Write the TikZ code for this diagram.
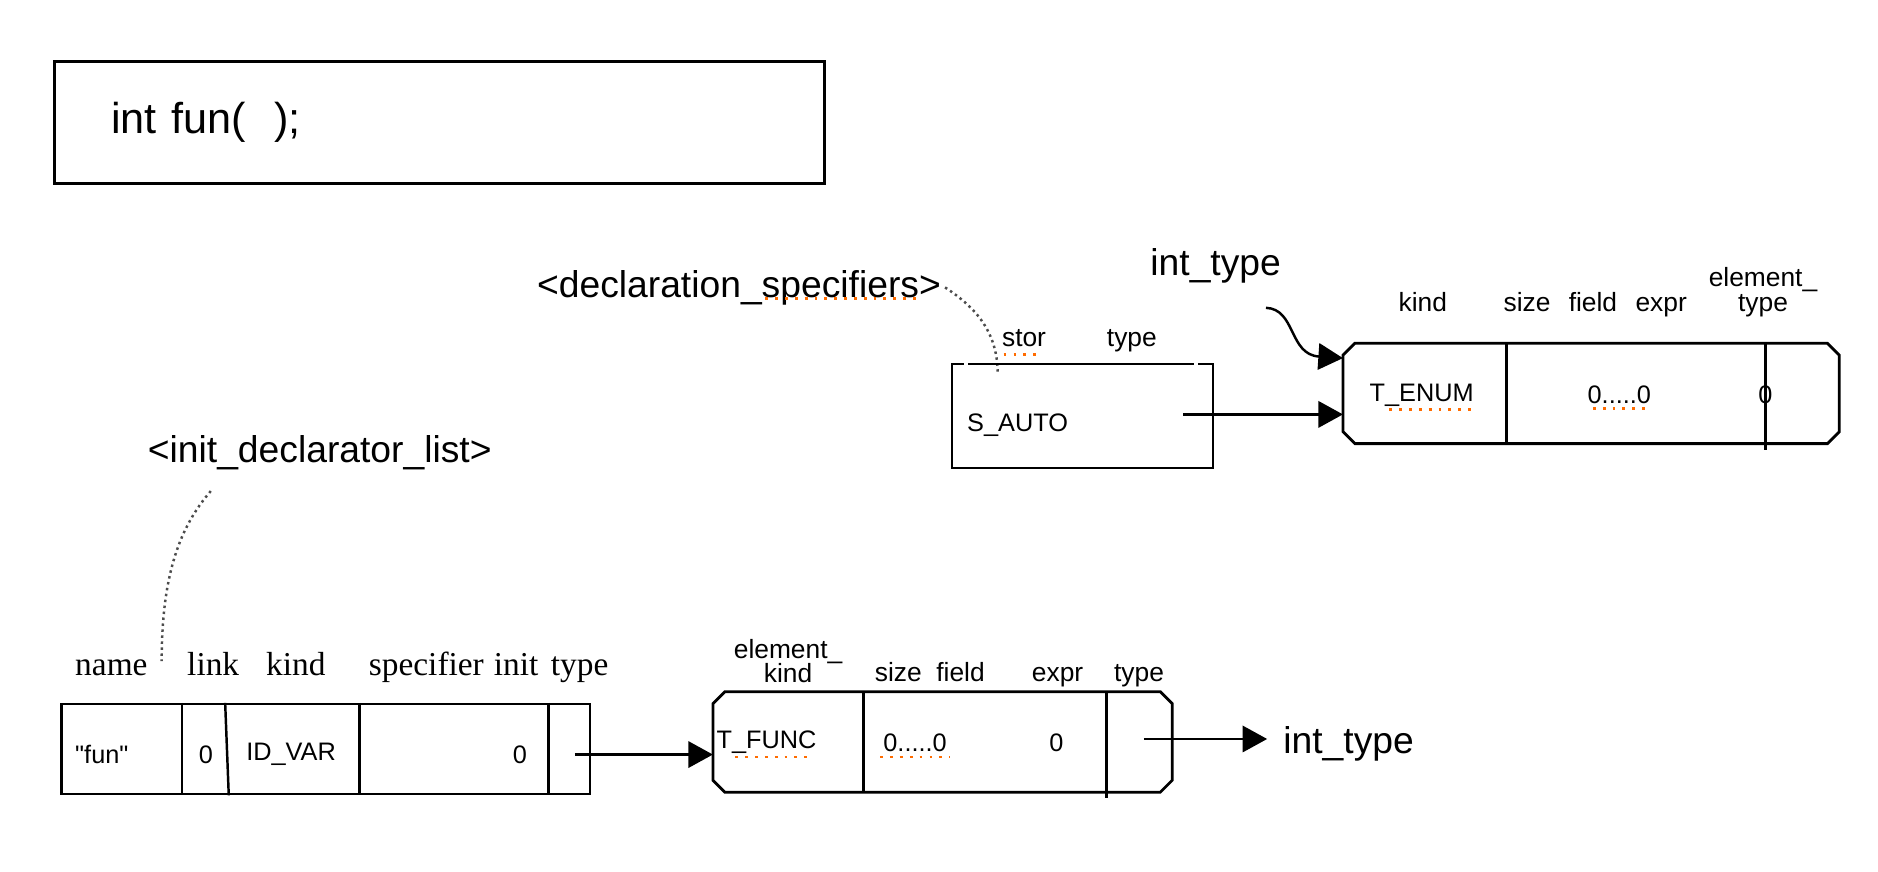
\documentclass[tikz,border=0pt]{standalone}
\usepackage{fontspec}
\setmainfont{Liberation Sans}[Ligatures=TeXOff]
\newfontfamily\serf{Liberation Serif}
\usetikzlibrary{arrows.meta,calc}
\tikzset{ptr/.style={line width=0.7pt,-{Triangle[length=7pt,width=7.5pt]}},
  rec/.style={draw, line width=0.7pt, inner sep=0pt},
  cham/.style={inner sep=0pt, minimum height=0.99cm},
  dv/.style={line width=0.7pt},
  hd/.style={font=\fontsize{7.5}{7}\selectfont, inner sep=1pt, anchor=base},
  hs/.style={font=\serf\fontsize{9.5}{10}\selectfont, inner sep=1pt, anchor=base},
  fl/.style={font=\fontsize{7.2}{8}\selectfont, inner sep=1pt},
  lbl/.style={font=\fontsize{10.6}{12}\selectfont, inner sep=1pt},
  note/.style={densely dotted, line width=0.7pt, black!70},
  spell/.style={orange!85!red, dotted, line width=0.8pt}}

\begin{document}
\begin{tikzpicture}[x=0.011977cm, y=-0.011977cm]
  \useasboundingbox (0,0) rectangle (1568,728);
  % source line
  \node[rec, line width=0.9pt, anchor=north west, minimum height=1.22cm, text width=6.56cm,
    inner xsep=0.57cm, align=left, font=\fontsize{12.3}{15}\selectfont] (src) at (44,50) {int fun(\ \ );};
  % declaration specifiers
  \node[lbl] (declspec) at (617,240) {<declaration\_specifiers>};
  \coordinate (stortip) at (833,312);
  \draw[note] (declspec.east) .. controls (812,255) and (833,275) .. (stortip);
  \node[hd] (stor) at (855,289) {stor};
  \node[hd] (sautotype) at (945,289) {type};
  \node[rec, minimum width=2.61cm, minimum height=1.04cm] (sauto) at (904,347.5) {};
  \foreach \x in {805,997}
    \draw[white, line width=1.2pt] (\x,0 |- sauto.north) -- ++(3,0);
  \node[fl, anchor=west] (sautotxt) at (804,355) {S\_AUTO};
  % int_type record, upper right
  \node[cham, minimum width=4.95cm] (tenum) at (1328.5,328.5) {};
  \draw[dv] (1258,0 |- tenum.north) -- (1258,0 |- tenum.south);
  \draw[dv] (1474,0 |- tenum.north) -- ($(1474,0 |- tenum.south)+(0,5)$);
  \foreach \t/\x in {kind/1188,size/1275,field/1330,expr/1387}
    \node[hd] (eh\x) at (\x,260) {\t};
  \node[hd, align=center, anchor=center] (enumelt) at (1472,244) {element\_\\type};
  \node[fl] (enumkind) at (1187,330) {T\_ENUM};
  \node[fl] (enumsz) at (1352,330) {0.....0};
  \node[fl] (enumelv) at (1474,330) {0};
  \node[lbl] (inttype) at (1015,222) {int\_type};
  \coordinate (itstart) at (1057,257);
  \draw[ptr] (itstart) .. controls (1082,258) and (1076,296) .. (tenum.west |- 0,299);
  \coordinate (sautoptr) at (988,346);
  \draw[ptr] (sautoptr) -- (sautoptr -| tenum.west);
  % function type record
  \node[cham, minimum width=4.58cm] (tfunc) at (787,619.5) {};
  \draw[dv] (721,0 |- tfunc.north) -- (721,0 |- tfunc.south);
  \draw[dv] (924,0 |- tfunc.north) -- ($(924,0 |- tfunc.south)+(0,5)$);
  \node[hd, align=center, anchor=center] (fnelt) at (658,552) {element\_\\kind};
  \foreach \t/\x in {size/750,field/802,expr/883,type/951}
    \node[hd] (fh\x) at (\x,569) {\t};
  \node[fl] (fnkind) at (640,620) {T\_FUNC};
  \node[fl] (fnsz) at (764,620) {0.....0};
  \node[fl] (fnexpr) at (882,620) {0};
  \node[lbl, anchor=west] (inttype2) at (1068,621) {int\_type};
  \coordinate (fnptr) at (955,617);
  \draw[ptr, shorten >=0.12cm] (fnptr) -- (fnptr -| inttype2.west);
  % chamfered outlines
  \foreach \n in {tenum,tfunc}
    \draw[line width=0.8pt] ($(\n.north west)+(10,0)$) -- ($(\n.north east)+(-10,0)$)
      -- ($(\n.north east)+(0,10)$) -- ($(\n.south east)+(0,-10)$) -- ($(\n.south east)+(-10,0)$)
      -- ($(\n.south west)+(10,0)$) -- ($(\n.south west)+(0,-10)$) -- ($(\n.north west)+(0,10)$) -- cycle;
  % init declarator list
  \node[lbl] (initdecl) at (267,378) {<init\_declarator\_list>};
  \coordinate (initfoot) at (176,410);
  \coordinate (nametip) at (135,552);
  \draw[note] (initfoot) .. controls (150,440) and (135,480) .. (nametip);
  \foreach \t/\x in {name/93,link/178,kind/247,specifier/356,init/431,type/484}
    \node[hs] (ih\x) at (\x,564) {\t};
  \node[rec, minimum width=5.29cm, minimum height=0.90cm] (ident) at (272,625.5) {};
  \foreach \x in {152,300,458}
    \draw[dv] (\x,0 |- ident.north) -- (\x,0 |- ident.south);
  \draw[dv] (188,0 |- ident.north) -- (191,0 |- ident.south);
  \node[fl] (idname) at (85,630) {"fun"};
  \node[fl] (idlink) at (172,630) {0};
  \node[fl] (idkind) at (243,630) {ID\_VAR};
  \node[fl] (idinit) at (434,630) {0};
  \coordinate (idptr) at (480,630);
  \draw[ptr] (idptr) -- (idptr -| tfunc.west);
  % spell check marks
  \draw[spell] (639,249) -- (766,249);
  \draw[spell] (838,296) -- (868,296);
  \draw[spell] (1160,342) -- (1232,342);
  \draw[spell] (1330,341) -- (1376,341);
  \draw[spell] (614,632) -- (676,632);
  \draw[spell] (735,632) -- (793,632);
\end{tikzpicture}
\end{document}
